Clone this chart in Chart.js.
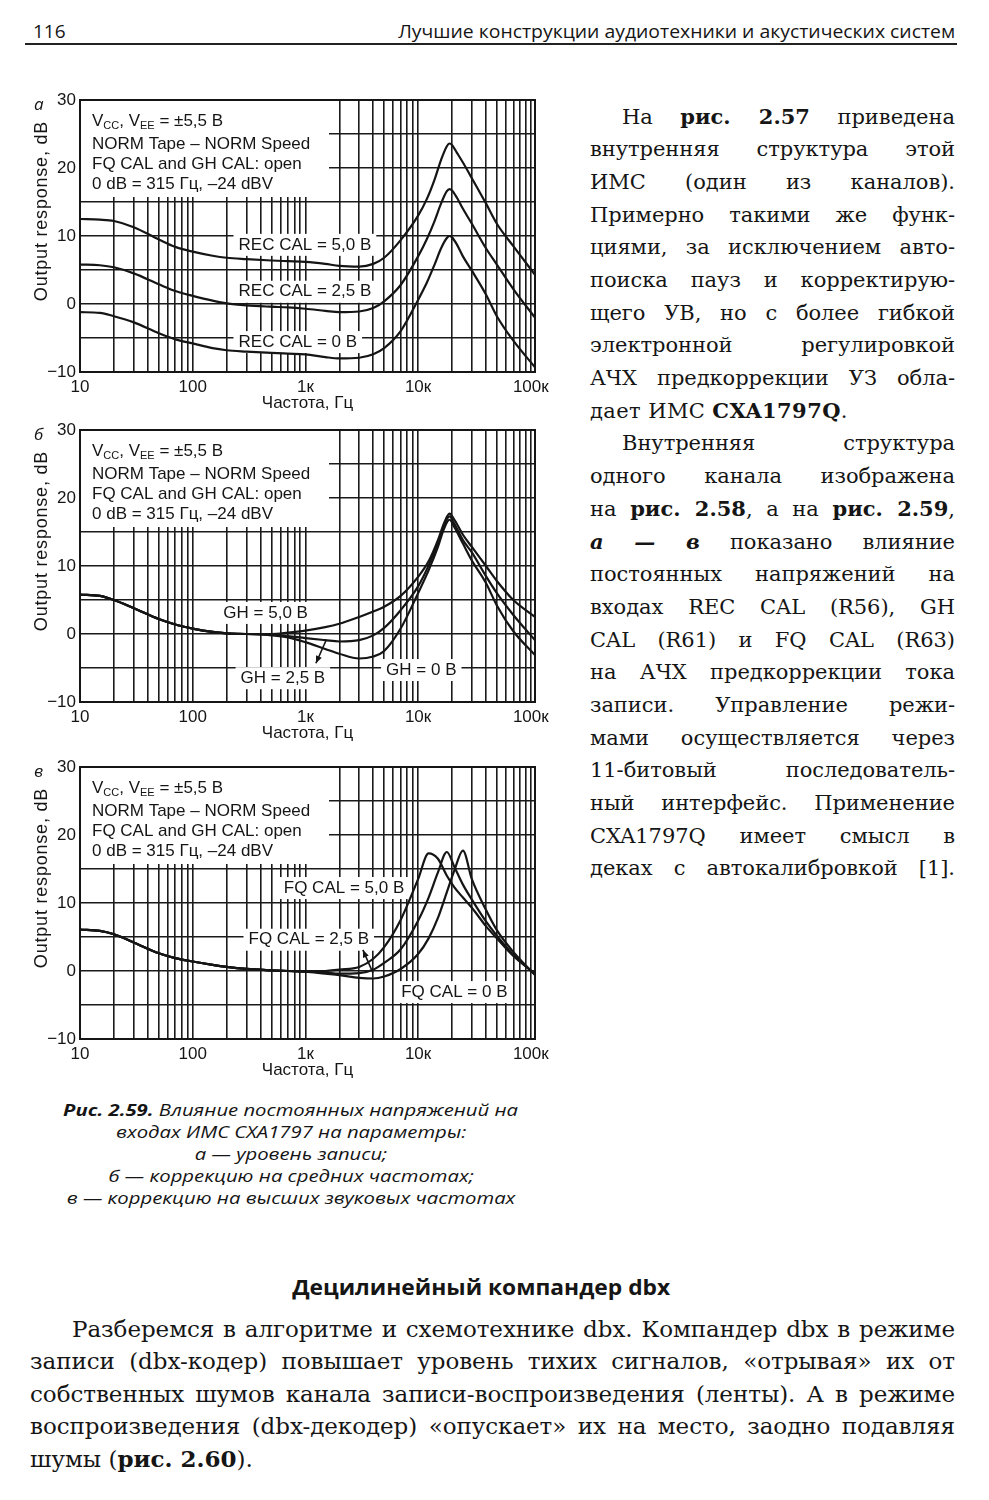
<!DOCTYPE html>
<html lang="ru">
<head>
<meta charset="utf-8">
<title>Рис. 2.59</title>
<script src="https://cdn.jsdelivr.net/npm/chart.js@4.4.1/dist/chart.umd.min.js"></script>
<style>
  html, body { margin: 0; padding: 0; background: #fff; }
  body { width: 989px; height: 1500px; position: relative; overflow: hidden; color: #151515; }
  .abs { position: absolute; white-space: nowrap; }
  canvas { position: absolute; left: 30px; }
  .hdr { font: 19px "Open Sans", "Noto Sans", sans-serif; line-height: 24px; }
  .col { position: absolute; font: 21px "DejaVu Serif", "Liberation Serif", serif; }
  .col div { height: 32.7px; line-height: 32.7px; white-space: nowrap; text-align: justify; text-align-last: justify; }
  .col div.last { text-align-last: left; letter-spacing: 0.4px; }
  .col div.ind { padding-left: 32px; }
  .cap { font: italic 16px "Open Sans", "Noto Sans", sans-serif; line-height: 22px; }
  .head { font: bold 21px "Open Sans", "Noto Sans", sans-serif; line-height: 28px; }
  .para { position: absolute; font: 23px "DejaVu Serif", "Liberation Serif", serif; }
  .para div { height: 32.6px; line-height: 32.6px; white-space: nowrap; text-align: justify; text-align-last: justify; }
  .para div.last { text-align-last: left; }
  .para div.ind { padding-left: 42px; }
</style>
</head>
<body>

<div class="abs hdr" style="left:33px;top:19px;">116</div>
<div class="abs hdr fit" data-w="557" data-o="right" style="right:34px;top:19px;">Лучшие конструкции аудиотехники и акустических систем</div>
<div class="abs" style="left:25px;top:43px;width:932px;height:2px;background:#222;"></div>

<canvas id="chartA" width="520" height="330" style="top:90px;"></canvas>
<canvas id="chartB" width="520" height="330" style="top:420px;"></canvas>
<canvas id="chartC" width="520" height="330" style="top:757px;"></canvas>

<div class="col" style="left:590px;top:100.6px;width:365px;">
  <div class="ind">На <b>рис. 2.57</b> приведена</div>
  <div>внутренняя структура этой</div>
  <div>ИМС (один из каналов).</div>
  <div>Примерно такими же функ-</div>
  <div>циями, за исключением авто-</div>
  <div>поиска пауз и корректирую-</div>
  <div>щего УВ, но с более гибкой</div>
  <div>электронной регулировкой</div>
  <div>АЧХ предкоррекции УЗ обла-</div>
  <div class="last">дает ИМС <b>CXA1797Q</b>.</div>
  <div class="ind">Внутренняя структура</div>
  <div>одного канала изображена</div>
  <div>на <b>рис. 2.58</b>, а на <b>рис. 2.59</b>,</div>
  <div><b><i>а — в</i></b> показано влияние</div>
  <div>постоянных напряжений на</div>
  <div>входах REC CAL (R56), GH</div>
  <div>CAL (R61) и FQ CAL (R63)</div>
  <div>на АЧХ предкоррекции тока</div>
  <div>записи. Управление режи-</div>
  <div>мами осуществляется через</div>
  <div>11-битовый последователь-</div>
  <div>ный интерфейс. Применение</div>
  <div>CXA1797Q имеет смысл в</div>
  <div>деках с автокалибровкой [1].</div>
</div>

<div class="abs cap capline" data-cx="291" style="top:1099px;"><b>Рис. 2.59.</b> Влияние постоянных напряжений на</div>
<div class="abs cap capline" data-cx="291" style="top:1121px;">входах ИМС CXA1797 на параметры:</div>
<div class="abs cap capline" data-cx="291" style="top:1143px;">а — уровень записи;</div>
<div class="abs cap capline" data-cx="291" style="top:1165px;">б — коррекцию на средних частотах;</div>
<div class="abs cap capline" data-cx="291" style="top:1187px;">в — коррекцию на высших звуковых частотах</div>

<div class="abs head fit" data-w="378" data-cx="481" style="top:1273px;">Децилинейный компандер dbx</div>

<div class="para" style="left:30px;top:1312.7px;width:925px;">
  <div class="ind">Разберемся в алгоритме и схемотехнике dbx. Компандер dbx в режиме</div>
  <div>записи (dbx-кодер) повышает уровень тихих сигналов, «отрывая» их от</div>
  <div>собственных шумов канала записи-воспроизведения (ленты). А в режиме</div>
  <div>воспроизведения (dbx-декодер) «опускает» их на место, заодно подавляя</div>
  <div class="last">шумы (<b>рис. 2.60</b>).</div>
</div>

<script>
// --- данные ---
const freqA = [10, 15, 20, 30, 50, 70, 100, 150, 200, 300, 500, 700, 1000, 1500, 2000, 3000, 4000, 5000, 7000, 10000, 12000, 14000, 16000, 18000, 19000, 20000, 22000, 25000, 30000, 40000, 50000, 70000, 109000];
const recCal50 = [12.5, 12.4, 12.2, 11.3, 9.5, 8.4, 7.7, 7.1, 6.8, 6.6, 6.4, 6.3, 6.2, 5.9, 5.6, 5.5, 5.9, 6.8, 9.4, 13.0, 15.5, 18.3, 21.2, 23.2, 23.6, 23.4, 22.3, 20.8, 18.5, 14.8, 11.8, 8.5, 4.3];
const recCal25 = [5.8, 5.7, 5.4, 4.5, 2.9, 1.9, 1.2, 0.5, 0.1, -0.2, -0.4, -0.5, -0.7, -1.0, -1.2, -1.1, -0.6, 0.4, 2.8, 7.0, 9.6, 12.2, 14.8, 16.6, 16.9, 16.7, 15.7, 14.0, 11.8, 8.2, 5.8, 2.2, -2.0];
const recCal0 = [-1.2, -1.3, -1.8, -2.7, -4.3, -5.2, -5.8, -6.5, -6.8, -7.0, -7.2, -7.3, -7.4, -7.8, -8.0, -7.9, -7.4, -6.5, -4.0, 0.6, 3.2, 5.8, 8.2, 9.7, 10.0, 9.8, 8.8, 7.0, 4.9, 1.4, -1.8, -5.4, -9.3];

const freqB = [10, 15, 20, 30, 50, 70, 100, 150, 200, 300, 500, 700, 1000, 1500, 2000, 3000, 4000, 5000, 7000, 10000, 12500, 15000, 17000, 19000, 21000, 25000, 30000, 40000, 50000, 70000, 109000];
const gh50 = [5.8, 5.6, 5.0, 3.8, 2.2, 1.4, 0.8, 0.3, 0.1, 0.0, 0.0, 0.2, 0.5, 1.0, 1.5, 2.5, 3.3, 4.0, 5.6, 8.4, 10.8, 13.8, 16.3, 17.7, 16.8, 14.6, 12.8, 10.0, 7.8, 5.0, 2.5];
const gh25 = [5.8, 5.6, 5.0, 3.8, 2.2, 1.4, 0.8, 0.3, 0.1, 0.0, -0.1, -0.3, -0.6, -0.9, -1.1, -0.9, -0.2, 0.9, 3.5, 7.0, 10.2, 13.4, 16.0, 17.3, 16.2, 13.8, 12.0, 8.5, 6.0, 2.8, -0.9];
const gh0 = [5.8, 5.6, 5.0, 3.8, 2.2, 1.4, 0.8, 0.3, 0.1, 0.0, -0.2, -0.5, -1.2, -2.2, -2.9, -3.6, -3.3, -2.5, 0.8, 6.0, 9.5, 12.8, 15.5, 16.8, 15.7, 13.3, 10.8, 7.5, 4.2, 0.4, -3.1];

const freqC = [10, 15, 20, 30, 50, 70, 100, 150, 200, 300, 500, 700, 1000, 1500, 2000, 3000, 4000, 5000, 7000, 10000, 12400, 15000, 18000, 21000, 25000, 30000, 40000, 50000, 70000, 109000];
const fqCal50 = [6.1, 5.9, 5.4, 4.2, 2.6, 1.9, 1.4, 0.9, 0.6, 0.3, 0.1, 0.0, -0.1, 0.0, 0.2, 0.6, 1.8, 3.5, 7.5, 13.5, 17.3, 16.5, 14.0, 12.3, 10.8, 9.3, 6.6, 4.8, 2.2, -0.4];
const fqCal25 = [6.1, 5.9, 5.4, 4.2, 2.6, 1.9, 1.4, 0.9, 0.6, 0.3, 0.1, 0.0, -0.1, -0.2, -0.4, -0.3, 0.2, 1.2, 3.2, 7.4, 10.8, 14.5, 17.5, 15.3, 12.7, 10.5, 7.3, 5.2, 2.4, -0.5];
const fqCal0 = [6.1, 5.9, 5.4, 4.2, 2.6, 1.9, 1.4, 0.9, 0.6, 0.3, 0.1, 0.0, -0.1, -0.4, -0.6, -1.0, -1.1, -0.8, 0.3, 2.5, 4.8, 7.8, 11.6, 14.8, 17.7, 13.5, 9.0, 6.0, 2.8, -0.6];

const xGridTicks = [10, 20, 30, 40, 50, 60, 70, 80, 90, 100, 200, 300, 400, 500, 600, 700, 800, 900,
  1000, 2000, 3000, 4000, 5000, 6000, 7000, 8000, 9000, 10000, 20000, 30000, 40000, 50000, 60000, 70000, 80000, 90000, 100000];
const xTickLabels = { 10: '10', 100: '100', 1000: '1к', 10000: '10к', 100000: '100к' };
const infoLines = ['NORM Tape – NORM Speed', 'FQ CAL and GH CAL: open', '0 dB = 315 Гц, –24 dBV'];

const SANS = '"Liberation Sans", Arial, sans-serif';
const INK = '#151515';

// подписи, стрелки и рамка поверх сетки
const decor = {
  id: 'decor',
  beforeDatasetsDraw(chart, args, opts) {
    const ctx = chart.ctx, a = chart.chartArea;
    const xs = chart.scales.x, ys = chart.scales.y;
    ctx.save();
    ctx.fillStyle = '#fff';
    ctx.fillRect(a.left + 1, a.top + 1, 248, 96);
    ctx.font = '17px ' + SANS;
    opts.labels.forEach(l => {
      const x = xs.getPixelForValue(l.f), y = ys.getPixelForValue(l.db);
      const w = ctx.measureText(l.text).width;
      ctx.fillRect(x - 5, y - 11, w + 10, 22);
    });
    ctx.strokeStyle = INK;
    ctx.lineWidth = 2;
    ctx.strokeRect(a.left, a.top, a.right - a.left, a.bottom - a.top);
    ctx.restore();
  },
  afterDatasetsDraw(chart, args, opts) {
    const ctx = chart.ctx, a = chart.chartArea;
    const xs = chart.scales.x, ys = chart.scales.y;
    ctx.save();
    ctx.fillStyle = INK;
    ctx.textBaseline = 'middle';
    ctx.textAlign = 'left';

    // блок условий
    const tx = a.left + 12;
    let x = tx;
    const y1 = a.top + 21;
    const part = (t, f, dy) => { ctx.font = f; ctx.fillText(t, x, y1 + dy); x += ctx.measureText(t).width; };
    part('V', '17px ' + SANS, 0);
    part('CC', '11px ' + SANS, 5);
    part(', V', '17px ' + SANS, 0);
    part('EE', '11px ' + SANS, 5);
    part(' = ±5,5 В', '17px ' + SANS, 0);
    ctx.font = '17px ' + SANS;
    infoLines.forEach((t, i) => ctx.fillText(t, tx, a.top + 44 + i * 20));

    // подписи кривых
    opts.labels.forEach(l => {
      ctx.fillText(l.text, xs.getPixelForValue(l.f), ys.getPixelForValue(l.db));
    });

    // стрелка
    if (opts.arrow) {
      const p = opts.arrow;
      const x1 = xs.getPixelForValue(p.from[0]), yy1 = ys.getPixelForValue(p.from[1]);
      const x2 = xs.getPixelForValue(p.to[0]), yy2 = ys.getPixelForValue(p.to[1]);
      ctx.strokeStyle = INK;
      ctx.lineWidth = 1.6;
      ctx.beginPath(); ctx.moveTo(x1, yy1); ctx.lineTo(x2, yy2); ctx.stroke();
      const ang = Math.atan2(yy2 - yy1, x2 - x1);
      ctx.beginPath();
      ctx.moveTo(x2, yy2);
      ctx.lineTo(x2 - 8 * Math.cos(ang - 0.4), yy2 - 8 * Math.sin(ang - 0.4));
      ctx.lineTo(x2 - 8 * Math.cos(ang + 0.4), yy2 - 8 * Math.sin(ang + 0.4));
      ctx.closePath(); ctx.fill();
    }

    // буква панели и подпись оси Y
    ctx.font = 'italic 17px "Open Sans", sans-serif';
    ctx.fillText(opts.letter, 4, a.top + 5);
    ctx.translate(12, a.top + 111);
    ctx.rotate(-Math.PI / 2);
    ctx.textAlign = 'center';
    ctx.font = '18px ' + SANS;
    ctx.letterSpacing = '0.8px';
    ctx.fillText('Output response, dB', 0, 0);
    ctx.restore();
  }
};

function makeChart(id, freqs, series, opts) {
  const ctx = document.getElementById(id).getContext('2d');
  return new Chart(ctx, {
    type: 'line',
    data: {
      datasets: series.map(s => ({
        label: s.label,
        data: freqs.map((f, i) => ({ x: f, y: s.values[i] })),
        borderColor: INK,
        borderWidth: 2.2,
        pointRadius: 0,
        fill: false,
        cubicInterpolationMode: 'monotone'
      }))
    },
    options: {
      responsive: false,
      animation: false,
      layout: { padding: { top: 10, right: 15, left: 0, bottom: 0 } },
      plugins: { legend: { display: false }, tooltip: { enabled: false }, decor: opts },
      scales: {
        x: {
          type: 'logarithmic',
          min: 10,
          max: 109000,
          afterBuildTicks: (scale) => { scale.ticks = xGridTicks.map(v => ({ value: v })); },
          afterFit: (scale) => { scale.height = 48; scale.paddingLeft = 0; scale.paddingRight = 0; },
          grid: { color: '#1a1a1a', lineWidth: 1.6, drawTicks: false },
          border: { display: true, color: INK, width: 2 },
          ticks: {
            autoSkip: false, maxRotation: 0, padding: 5, color: INK,
            font: { family: SANS, size: 17 },
            callback: (v) => xTickLabels[v] || ''
          },
          title: { display: true, text: 'Частота, Гц', color: INK, font: { family: SANS, size: 17 }, padding: { top: 0, bottom: 6 } }
        },
        y: {
          min: -10,
          max: 30,
          afterFit: (scale) => { scale.width = 50; scale.paddingTop = 0; scale.paddingBottom = 0; },
          grid: { color: '#1a1a1a', lineWidth: 1.6, drawTicks: false },
          border: { display: true, color: INK, width: 2 },
          ticks: {
            stepSize: 5, padding: 4, color: INK,
            font: { family: SANS, size: 17 },
            callback: (v) => v % 10 === 0 ? (v < 0 ? '−' + Math.abs(v) : String(v)) : ''
          }
        }
      }
    },
    plugins: [decor]
  });
}

makeChart('chartA', freqA, [
  { label: 'REC CAL = 5,0 В', values: recCal50 },
  { label: 'REC CAL = 2,5 В', values: recCal25 },
  { label: 'REC CAL = 0 В', values: recCal0 }
], {
  letter: 'а',
  labels: [
    { text: 'REC CAL = 5,0 В', f: 255, db: 8.7 },
    { text: 'REC CAL = 2,5 В', f: 255, db: 1.8 },
    { text: 'REC CAL = 0 В', f: 255, db: -5.6 }
  ]
});

makeChart('chartB', freqB, [
  { label: 'GH = 5,0 В', values: gh50 },
  { label: 'GH = 2,5 В', values: gh25 },
  { label: 'GH = 0 В', values: gh0 }
], {
  letter: 'б',
  labels: [
    { text: 'GH = 5,0 В', f: 187, db: 3.1 },
    { text: 'GH = 2,5 В', f: 266, db: -6.5 },
    { text: 'GH = 0 В', f: 5200, db: -5.3 }
  ],
  arrow: { from: [1520, -1.0], to: [1240, -4.3] }
});

makeChart('chartC', freqC, [
  { label: 'FQ CAL = 5,0 В', values: fqCal50 },
  { label: 'FQ CAL = 2,5 В', values: fqCal25 },
  { label: 'FQ CAL = 0 В', values: fqCal0 }
], {
  letter: 'в',
  labels: [
    { text: 'FQ CAL = 5,0 В', f: 643, db: 12.2 },
    { text: 'FQ CAL = 2,5 В', f: 313, db: 4.6 },
    { text: 'FQ CAL = 0 В', f: 7080, db: -3.1 }
  ],
  arrow: { from: [3980, -0.3], to: [3240, 3.1] }
});

// подгонка ширины строк под макет страницы
document.querySelectorAll('.fit').forEach(el => {
  const w = el.getBoundingClientRect().width;
  const s = (+el.dataset.w) / w;
  if (el.dataset.cx) {
    el.style.left = (+el.dataset.cx - w / 2) + 'px';
    el.style.transformOrigin = 'center center';
  } else {
    el.style.transformOrigin = el.dataset.o === 'right' ? 'right center' : 'left center';
  }
  el.style.transform = 'scaleX(' + s + ')';
});

const capLines = document.querySelectorAll('.capline');
const capScale = 455 / capLines[0].getBoundingClientRect().width;
capLines.forEach(el => {
  const w = el.getBoundingClientRect().width;
  el.style.left = (+el.dataset.cx - w / 2) + 'px';
  el.style.transformOrigin = 'center center';
  el.style.transform = 'scaleX(' + capScale + ')';
});

// выключка строк: часть зазора уходит в межбуквенный интервал, остальное — в пробелы
function trackLines(sel, share, maxLs) {
  document.querySelectorAll(sel).forEach(div => {
    const span = document.createElement('span');
    span.innerHTML = div.innerHTML;
    div.innerHTML = '';
    div.appendChild(span);
    const pad = parseFloat(getComputedStyle(div).paddingLeft) || 0;
    const target = div.clientWidth - pad;
    const nat = span.getBoundingClientRect().width;
    const n = span.textContent.length;
    let ls = (target - nat) / n;
    ls = ls > 0 ? Math.min(ls * share, maxLs) : ls - 0.05;
    div.style.letterSpacing = ls.toFixed(2) + 'px';
  });
}
trackLines('.col div:not(.last)', 0.6, 1.6);
trackLines('.para div:not(.last)', 0.5, 1.0);
</script>
</body>
</html>
